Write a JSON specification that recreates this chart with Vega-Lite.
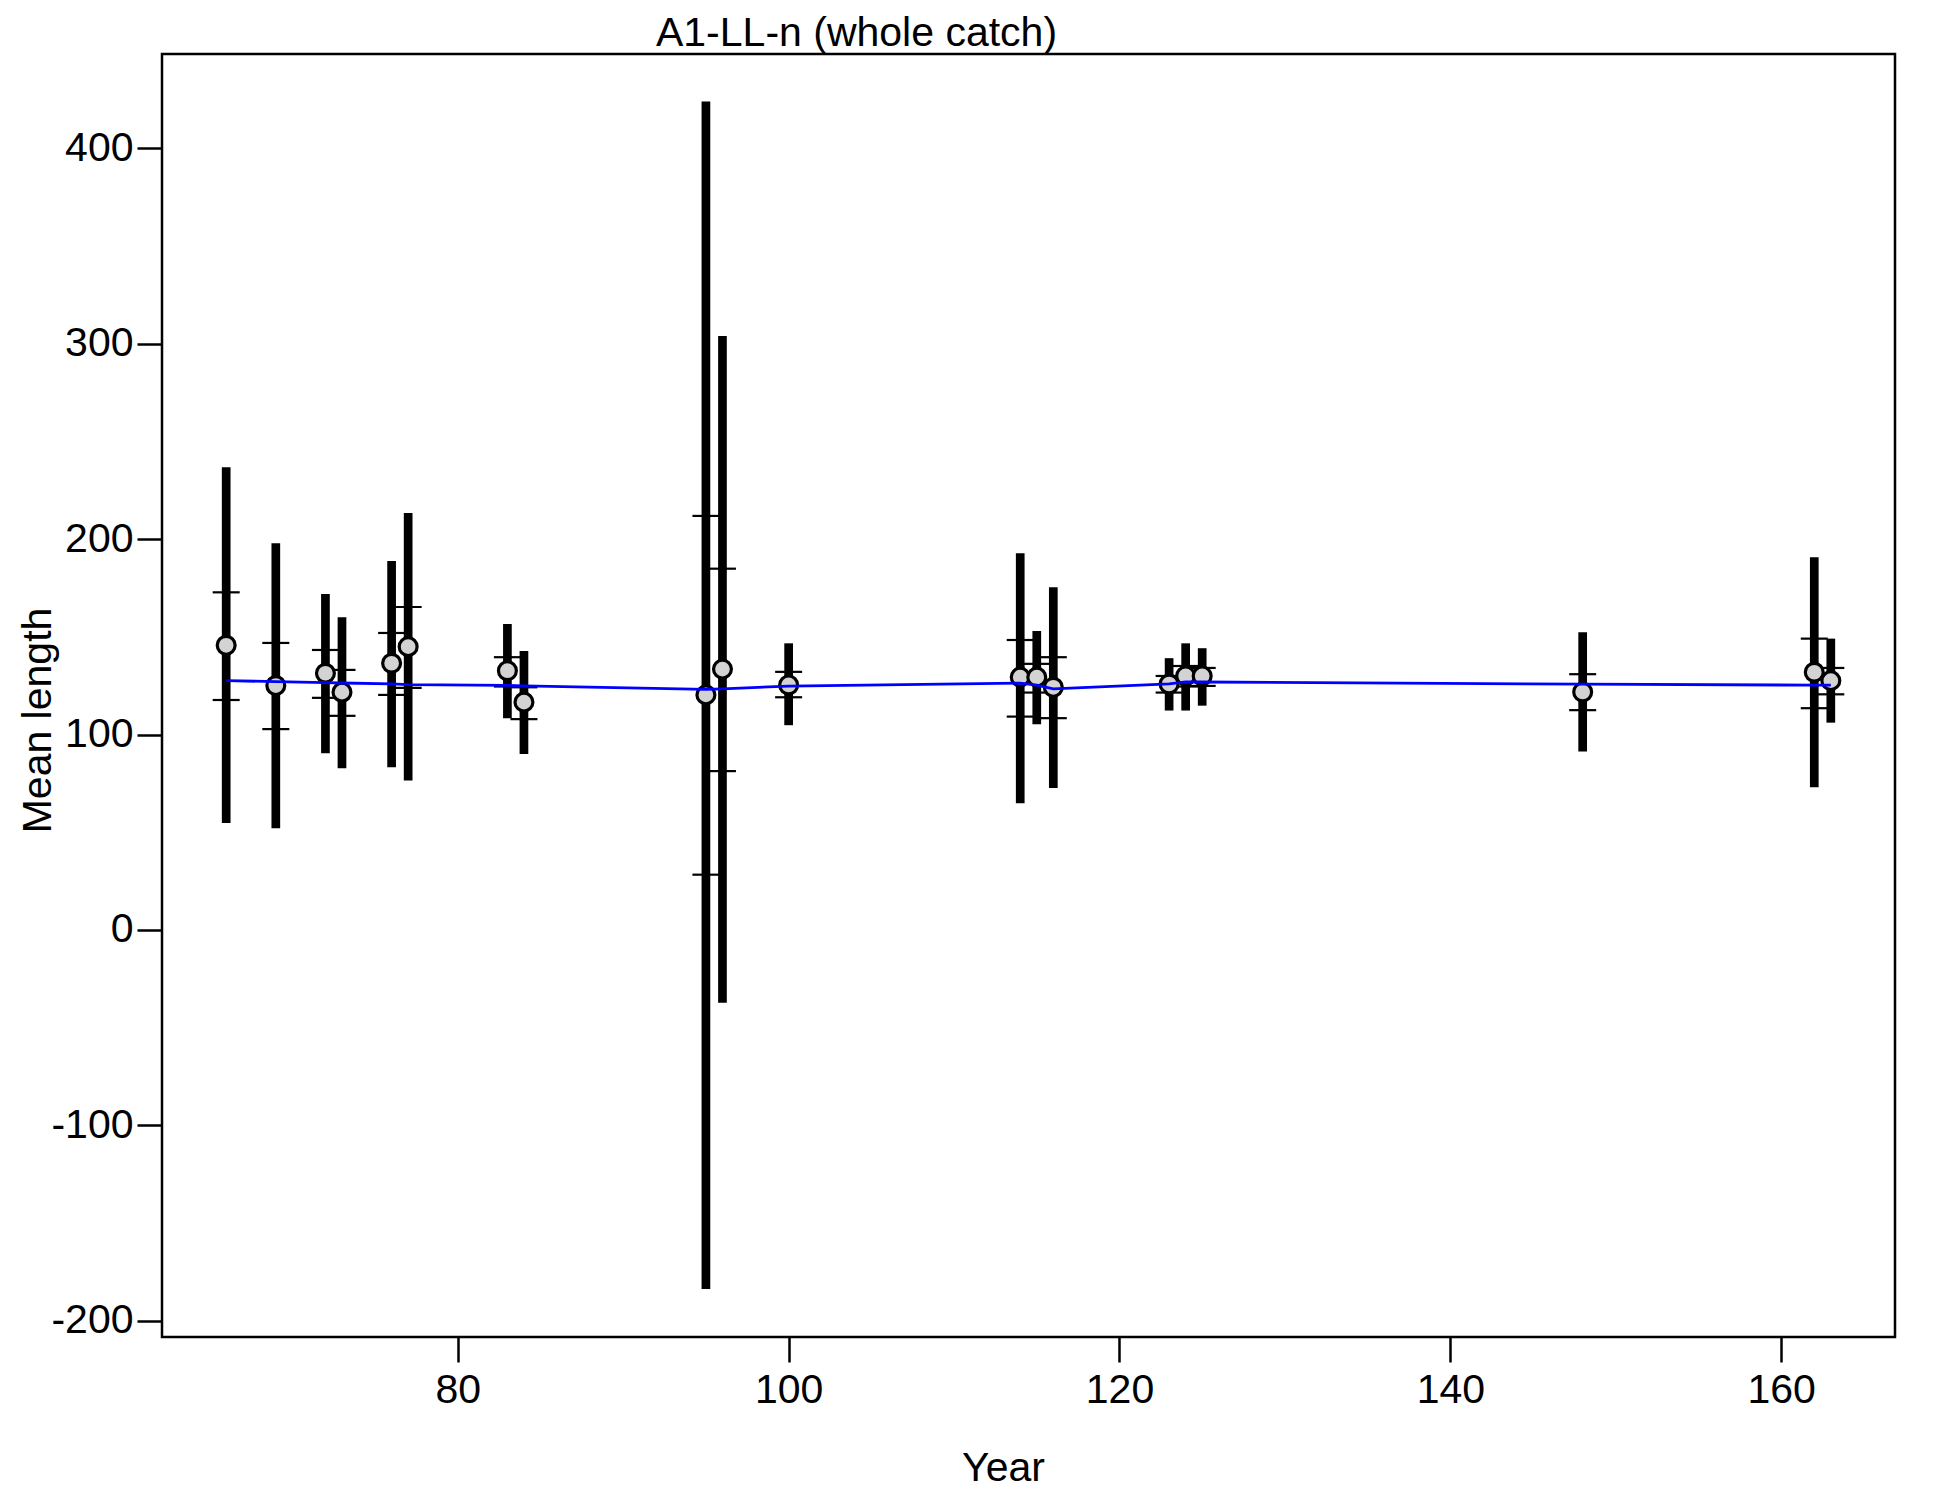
{
  "$schema": "https://vega.github.io/schema/vega-lite/v6.json",
  "width": 1733,
  "height": 1283,
  "autosize": {"type": "none"},
  "padding": {"left": 162, "top": 54, "right": 55, "bottom": 163},
  "background": "white",
  "title": {
    "text": "A1-LL-n (whole catch)",
    "font": "Liberation Sans",
    "fontSize": 41,
    "fontWeight": "normal",
    "color": "black",
    "anchor": "middle",
    "frame": "group",
    "dx": -172,
    "dy": 39,
    "baseline": "alphabetic",
    "offset": 6
  },
  "data": {
    "values": [
      {"year": 66, "lo": 54.7, "hi": 236.8, "ilo": 117.7, "ihi": 172.8, "obs": 145.7, "exp": 127.6},
      {"year": 69, "lo": 52.1, "hi": 197.9, "ilo": 102.8, "ihi": 146.9, "obs": 125.1, "exp": 127.1},
      {"year": 72, "lo": 90.5, "hi": 172.0, "ilo": 118.8, "ihi": 143.3, "obs": 131.4, "exp": 126.6},
      {"year": 73, "lo": 82.8, "hi": 160.0, "ilo": 109.6, "ihi": 133.1, "obs": 121.7, "exp": 126.4},
      {"year": 76, "lo": 83.3, "hi": 188.8, "ilo": 120.3, "ihi": 152.0, "obs": 136.5, "exp": 125.9},
      {"year": 77, "lo": 76.5, "hi": 213.4, "ilo": 123.9, "ihi": 165.3, "obs": 145.0, "exp": 125.6},
      {"year": 83, "lo": 108.4, "hi": 156.6, "ilo": 124.6, "ihi": 139.6, "obs": 132.7, "exp": 125.2},
      {"year": 84, "lo": 90.0, "hi": 142.8, "ilo": 107.9, "ihi": 124.2, "obs": 116.6, "exp": 124.9},
      {"year": 95, "lo": -183.7, "hi": 424.0, "ilo": 28.3, "ihi": 211.9, "obs": 120.3, "exp": 123.1},
      {"year": 96, "lo": -37.3, "hi": 304.0, "ilo": 81.3, "ihi": 184.9, "obs": 133.5, "exp": 123.4},
      {"year": 100, "lo": 104.8, "hi": 146.7, "ilo": 119.1, "ihi": 132.1, "obs": 125.4, "exp": 124.8},
      {"year": 114, "lo": 64.9, "hi": 192.8, "ilo": 109.2, "ihi": 148.4, "obs": 129.4, "exp": 126.3},
      {"year": 115, "lo": 105.3, "hi": 153.0, "ilo": 121.5, "ihi": 136.2, "obs": 129.4, "exp": 125.3},
      {"year": 116, "lo": 72.6, "hi": 175.4, "ilo": 108.4, "ihi": 139.6, "obs": 124.2, "exp": 123.4},
      {"year": 123, "lo": 112.3, "hi": 139.1, "ilo": 121.5, "ihi": 130.0, "obs": 125.9, "exp": 125.9},
      {"year": 124, "lo": 112.3, "hi": 146.7, "ilo": 124.6, "ihi": 135.1, "obs": 130.0, "exp": 127.0},
      {"year": 125, "lo": 114.8, "hi": 144.2, "ilo": 124.9, "ihi": 134.1, "obs": 130.0, "exp": 126.9},
      {"year": 148, "lo": 91.3, "hi": 152.4, "ilo": 112.5, "ihi": 130.9, "obs": 121.8, "exp": 125.8},
      {"year": 162, "lo": 73.0, "hi": 190.7, "ilo": 113.5, "ihi": 149.1, "obs": 131.9, "exp": 125.3},
      {"year": 163, "lo": 106.1, "hi": 149.1, "ilo": 120.6, "ihi": 134.1, "obs": 127.6, "exp": 125.3}
    ]
  },
  "encoding": {
    "x": {
      "field": "year",
      "type": "quantitative",
      "scale": {"domain": [62.12, 166.88], "nice": false, "zero": false},
      "axis": {
        "values": [80, 100, 120, 140, 160],
        "labelPadding": 8,
        "title": "Year",
        "titleX": 841,
        "titleY": 143,
        "titleBaseline": "alphabetic",
        "titleAlign": "center",
        "labelFlush": false,
        "labelOverlap": false
      }
    }
  },
  "layer": [
    {
      "mark": {"type": "rule", "color": "black", "strokeWidth": 8.7, "strokeCap": "butt"},
      "encoding": {
        "y": {
          "field": "lo",
          "type": "quantitative",
          "scale": {"domain": [-208.3, 448.3], "nice": false, "zero": false},
          "axis": {
            "values": [-200, -100, 0, 100, 200, 300, 400],
            "labelExpr": "datum.value < 0 ? '-' + abs(datum.value) : '' + datum.value",
            "labelPadding": 4,
            "title": "Mean length",
            "titleX": -112,
            "titleY": 666,
            "titleBaseline": "alphabetic",
            "titleAlign": "center",
            "titleAngle": -90,
            "labelFlush": false,
            "labelOverlap": false
          }
        },
        "y2": {"field": "hi"}
      }
    },
    {
      "mark": {"type": "tick", "orient": "horizontal", "size": 27, "thickness": 2.2, "color": "black", "opacity": 1},
      "encoding": {"y": {"field": "ilo", "type": "quantitative"}}
    },
    {
      "mark": {"type": "tick", "orient": "horizontal", "size": 27, "thickness": 2.2, "color": "black", "opacity": 1},
      "encoding": {"y": {"field": "ihi", "type": "quantitative"}}
    },
    {
      "mark": {"type": "point", "shape": "circle", "filled": true, "fill": "#d3d3d3", "stroke": "black", "strokeWidth": 3.2, "size": 320, "opacity": 1},
      "encoding": {"y": {"field": "obs", "type": "quantitative"}}
    },
    {
      "mark": {"type": "line", "color": "#0000ff", "strokeWidth": 2.8},
      "encoding": {"y": {"field": "exp", "type": "quantitative"}, "order": {"field": "year"}}
    }
  ],
  "config": {
    "view": {"stroke": "black", "strokeWidth": 2.5},
    "axis": {
      "grid": false,
      "domain": false,
      "tickColor": "black",
      "tickSize": 25,
      "tickWidth": 2.5,
      "labelColor": "black",
      "titleColor": "black",
      "labelFont": "Liberation Sans",
      "titleFont": "Liberation Sans",
      "labelFontSize": 41,
      "titleFontSize": 41,
      "titleFontWeight": "normal",
      "titlePadding": 0
    }
  }
}
